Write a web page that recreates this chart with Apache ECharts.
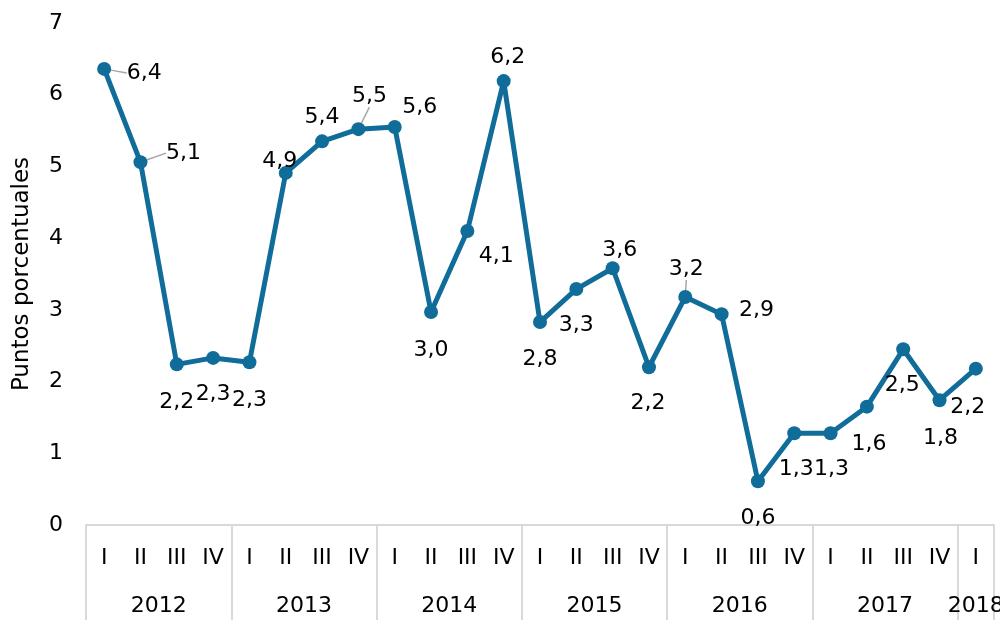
<!DOCTYPE html>
<html>
<head>
<meta charset="utf-8">
<script src="https://cdn.jsdelivr.net/npm/echarts@6/dist/echarts.min.js"></script>
<style>
  html, body { margin: 0; padding: 0; background: #fff; }
  #chart { width: 1000px; height: 620px; }
</style>
</head>
<body>
<div id="chart"></div>
<script>
// trimestres y años
var quarters = ['I', 'II', 'III', 'IV', 'I', 'II', 'III', 'IV', 'I', 'II', 'III', 'IV',
    'I', 'II', 'III', 'IV', 'I', 'II', 'III', 'IV', 'I', 'II', 'III', 'IV', 'I'];
var years = ['2012', '2013', '2014', '2015', '2016', '2017', '2018'];
// puntos porcentuales
var values = [6.36, 5.06, 2.24, 2.33, 2.27, 4.91, 5.35, 5.52, 5.55, 2.97, 4.10, 6.19,
    2.83, 3.29, 3.58, 2.20, 3.18, 2.94, 0.61, 1.28, 1.28, 1.65, 2.45, 1.74, 2.18];
var valueLabels = ['6,4', '5,1', '2,2', '2,3', '2,3', '4,9', '5,4', '5,5', '5,6', '3,0', '4,1', '6,2',
    '2,8', '3,3', '3,6', '2,2', '3,2', '2,9', '0,6', '1,3', '1,3', '1,6', '2,5', '1,8', '2,2'];

// desplazamiento de cada etiqueta respecto al punto
var labelShift = [[40, 4], [43, -9], [0, 38], [0, 36], [0, 38], [-6, -12], [0, -24], [11, -33],
    [25, -20], [0, 38], [29, 25], [4, -24], [0, 37], [0, 36], [7, -18], [-1, 36], [1, -28],
    [35, -4], [0, 37], [2, 36], [1, 36], [2, 38], [-1, 36], [1, 38], [-8, 39]];
var withLeader = [0, 1, 7, 16];

var font = 'DejaVu Sans';
var fs = 22;
var myChart = echarts.init(document.getElementById('chart'));

var option = {
    animation: false,
    textStyle: { fontFamily: font },
    grid: { left: 86, right: 6, top: 23, bottom: 95, outerBoundsMode: 'none', containLabel: false },
    xAxis: [{
        type: 'category',
        data: quarters,
        boundaryGap: true,
        axisLine: { lineStyle: { color: '#d9d9d9', width: 2 } },
        axisTick: {
            show: true,
            length: 100,
            lineStyle: { color: '#d9d9d9', width: 2 },
            interval: 3
        },
        axisLabel: { color: '#000', fontSize: fs, margin: 22, interval: 0, fontFamily: font }
    }, {
        type: 'value',
        position: 'bottom',
        min: 0,
        max: 25,
        interval: 0.5,
        axisLine: { show: false },
        axisTick: { show: false },
        splitLine: { show: false },
        axisLabel: {
            color: '#000', fontSize: fs, margin: 70, fontFamily: font,
            showMinLabel: true, showMaxLabel: true,
            formatter: function (v) {
                if (v === 24.5) return years[6];
                if (v >= 2 && (v - 2) % 4 === 0) return years[(v - 2) / 4];
                return '';
            }
        }
    }],
    yAxis: {
        type: 'value',
        min: 0,
        max: 7,
        interval: 1,
        name: 'Puntos porcentuales',
        nameLocation: 'middle',
        nameGap: 52,
        nameRotate: 90,
        nameTextStyle: { color: '#000', fontSize: 23, fontFamily: font },
        axisLine: { show: false },
        axisTick: { show: false },
        splitLine: { show: false },
        axisLabel: { color: '#000', fontSize: fs, margin: 23, fontFamily: font }
    },
    series: [{
        type: 'line',
        xAxisIndex: 0,
        data: values.map(function (v, i) {
            return {
                value: v,
                labelLine: { show: withLeader.indexOf(i) >= 0 }
            };
        }),
        symbol: 'circle',
        symbolSize: 14,
        lineStyle: { color: '#106c99', width: 5 },
        itemStyle: { color: '#106c99' },
        label: {
            show: true,
            position: 'inside',
            color: '#000',
            fontSize: fs,
            fontFamily: font,
            formatter: function (p) { return valueLabels[p.dataIndex]; }
        },
        labelLine: { show: false, lineStyle: { color: '#a6a6a6', width: 1.5 } },
        labelLayout: function (p) {
            var s = labelShift[p.dataIndex];
            return { dx: s[0], dy: s[1] };
        }
    }]
};

myChart.setOption(option);
</script>
</body>
</html>
